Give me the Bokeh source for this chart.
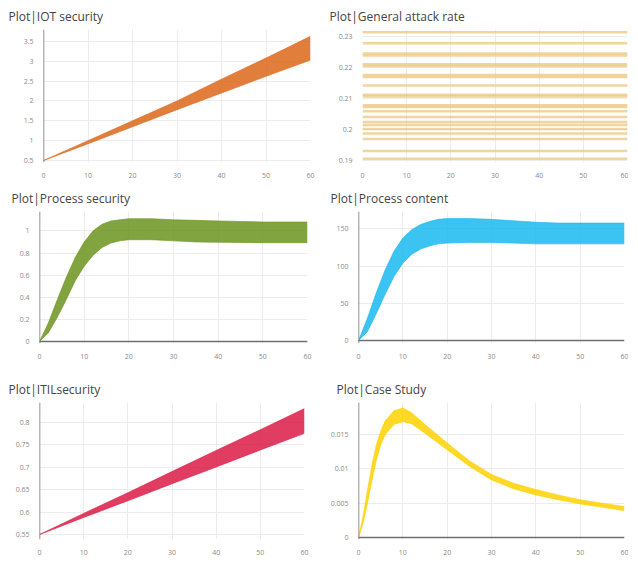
from bokeh.plotting import figure
from bokeh.layouts import column, row
from bokeh.models import FixedTicker, CustomJSTickFormatter, Span, Range1d
from bokeh.embed import file_html
from bokeh.resources import INLINE

# ---------------- data ----------------
X_TICKS = [0, 10, 20, 30, 40, 50, 60]
X_DOMAIN = [0, 60]

# Plot|IOT security
IOT_X = [0, 10, 20, 30, 40, 50, 60]
IOT_UPPER = [0.5, 1.0, 1.5, 2.0, 2.55, 3.08, 3.63]
IOT_LOWER = [0.5, 0.92, 1.35, 1.78, 2.2, 2.62, 3.03]
IOT_YTICKS = [0.5, 1, 1.5, 2, 2.5, 3, 3.5]

# Plot|General attack rate (constant levels)
GAR_LEVELS = [0.2312, 0.2277, 0.2244, 0.2238, 0.2210, 0.2204, 0.2175, 0.2169,
              0.2142, 0.2112, 0.2106, 0.2078, 0.2073, 0.2059, 0.2041, 0.2025,
              0.2015, 0.2002, 0.1988, 0.1970, 0.1932, 0.1907]
GAR_YTICKS = [0.19, 0.2, 0.21, 0.22, 0.23]

# Plot|Process security
PS_X = [0, 2, 4, 6, 8, 10, 12, 14, 16, 18, 20, 25, 30, 35, 40, 45, 50, 55, 60]
PS_UPPER = [0, 0.17, 0.38, 0.58, 0.76, 0.9, 1.0, 1.06, 1.09, 1.1, 1.11, 1.11,
            1.1, 1.095, 1.09, 1.085, 1.08, 1.08, 1.08]
PS_LOWER = [0, 0.08, 0.22, 0.38, 0.55, 0.68, 0.78, 0.85, 0.89, 0.91, 0.92, 0.92,
            0.91, 0.9, 0.897, 0.895, 0.893, 0.893, 0.893]
PS_YTICKS = [0, 0.2, 0.4, 0.6, 0.8, 1]

# Plot|Process content
PC_X = [0, 2, 4, 6, 8, 10, 12, 14, 16, 18, 20, 25, 30, 35, 40, 45, 50, 55, 60]
PC_UPPER = [0, 30, 64, 95, 120, 138, 149, 156, 160, 163, 164, 164, 163, 161,
            159, 158, 158, 158, 158]
PC_LOWER = [0, 12, 36, 62, 86, 104, 116, 123, 127, 130, 131, 132, 132, 131,
            130, 130, 130, 130, 130]
PC_YTICKS = [0, 50, 100, 150]

# Plot|ITILsecurity
IT_X = [0, 10, 20, 30, 40, 50, 60]
IT_UPPER = [0.55, 0.597, 0.643, 0.69, 0.737, 0.783, 0.83]
IT_LOWER = [0.55, 0.588, 0.625, 0.663, 0.7, 0.738, 0.775]
IT_YTICKS = [0.55, 0.6, 0.65, 0.7, 0.75, 0.8]

# Plot|Case Study
CS_X = [0, 1, 2, 3, 4, 5, 6, 8, 10, 12, 15, 20, 25, 30, 35, 40, 45, 50, 55, 60]
CS_UPPER = [0, 0.003, 0.0068, 0.0105, 0.0135, 0.0155, 0.017, 0.0185, 0.0189,
            0.0182, 0.0165, 0.0138, 0.0112, 0.0092, 0.0079, 0.0070, 0.0062,
            0.0055, 0.0050, 0.0045]
CS_LOWER = [0, 0.002, 0.0049, 0.0082, 0.0112, 0.0135, 0.0150, 0.0165, 0.0169,
            0.0166, 0.0152, 0.0128, 0.0104, 0.0084, 0.0071, 0.0062, 0.0055,
            0.0049, 0.0044, 0.0039]
CS_YTICKS = [0, 0.005, 0.01, 0.015]

FONT = "Open Sans"
FMT = "return String(tick);"


def make_fig(title, w, h, bl, br, bt, bb, yr, yticks, title_offset,
             zero_x=True, zero_y=False):
    p = figure(width=w, height=h, output_backend="svg", toolbar_location=None,
               x_range=Range1d(X_DOMAIN[0], X_DOMAIN[1]),
               y_range=Range1d(yr[0], yr[1]),
               min_border_left=bl, min_border_right=br,
               min_border_top=bt, min_border_bottom=bb)
    p.outline_line_color = None
    p.background_fill_color = "white"
    p.border_fill_color = "white"
    p.title.text = title
    p.title.text_font = FONT
    p.title.text_font_style = "normal"
    p.title.text_font_size = "12px"
    p.title.text_color = "#444444"
    p.title.align = "left"
    p.title.offset = title_offset
    p.xaxis.ticker = FixedTicker(ticks=X_TICKS)
    p.yaxis.ticker = FixedTicker(ticks=yticks)
    for ax in (p.xaxis, p.yaxis):
        ax.formatter = CustomJSTickFormatter(code=FMT)
        ax.axis_line_color = None
        ax.major_tick_line_color = None
        ax.minor_tick_line_color = None
        ax.major_label_text_font = FONT
        ax.major_label_text_font_size = "7px"
        ax.major_label_text_color = "#8a8a8a"
        ax.major_label_standoff = 4
    p.xgrid.grid_line_color = "#ececec"
    p.ygrid.grid_line_color = "#ececec"
    if zero_x:
        p.add_layout(Span(location=0, dimension="height", line_color="#6f6f6f",
                          line_width=1.5))
    if zero_y:
        p.add_layout(Span(location=0, dimension="width", line_color="#6f6f6f",
                          line_width=1.5))
    return p


def band(p, xs, lower, upper, color, alpha=0.85):
    p.varea(x=xs, y1=lower, y2=upper, fill_color=color, fill_alpha=alpha)
    p.line(xs, upper, line_color=color, line_alpha=0.6, line_width=1)
    p.line(xs, lower, line_color=color, line_alpha=0.6, line_width=1)


# Row 1
p1 = make_fig("Plot|IOT security", 318, 182, 43, 8, 26, 20,
              (0.45, 3.8), IOT_YTICKS, -35)
band(p1, IOT_X, IOT_LOWER, IOT_UPPER, "#dc671a")

p2 = make_fig("Plot|General attack rate", 310, 182, 44, 1, 28, 20,
              (0.1895, 0.2321), GAR_YTICKS, -33, zero_x=False)
p2.multi_line(xs=[X_DOMAIN for _ in GAR_LEVELS],
              ys=[[v, v] for v in GAR_LEVELS],
              line_color="#ecc77e", line_alpha=0.75, line_width=2.5)

# Row 2
p3 = make_fig("Plot|Process security", 318, 180, 39, 11, 25, 19,
              (-0.0175, 1.175), PS_YTICKS, -28, zero_y=True)
band(p3, PS_X, PS_LOWER, PS_UPPER, "#6b9420")

p4 = make_fig("Plot|Process content", 310, 180, 40, 4, 25, 19,
              (-3.9, 173.5), PC_YTICKS, -28, zero_y=True)
band(p4, PC_X, PC_LOWER, PC_UPPER, "#19b9ef")

# Row 3
p5 = make_fig("Plot|ITILsecurity", 318, 200, 39, 14, 40, 20,
              (0.539, 0.8435), IT_YTICKS, -31)
band(p5, IT_X, IT_LOWER, IT_UPPER, "#dc1a45")

p6 = make_fig("Plot|Case Study", 310, 200, 40, 4, 40, 23,
              (-0.0003, 0.0197), CS_YTICKS, -22, zero_y=True)
band(p6, CS_X, CS_LOWER, CS_UPPER, "#ffd200")

layout = column(row(p1, p2), row(p3, p4), row(p5, p6))

open("out.html", "w").write(file_html(layout, INLINE))
